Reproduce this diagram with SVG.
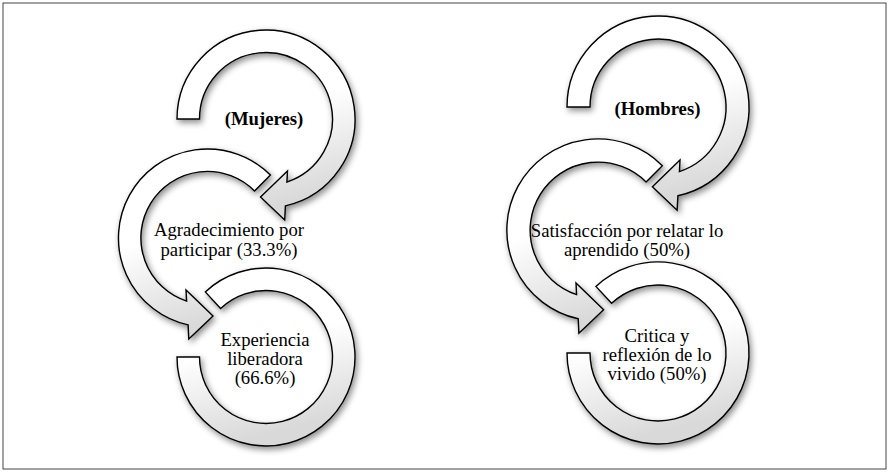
<svg xmlns="http://www.w3.org/2000/svg" width="890" height="473" viewBox="0 0 890 473">
  <style>
    .arrow { fill: url(#g); stroke: #000; stroke-width: 1.4; stroke-linejoin: miter; filter: url(#sh); }
    .t { font-family: "Liberation Serif", "Times New Roman", serif; font-size: 18.7px; fill: #000; text-anchor: middle; }
    .b { font-weight: bold; }
  </style>
  <defs>
    <linearGradient id="g" x1="0" y1="0" x2="0.25" y2="1">
      <stop offset="0" stop-color="#ffffff"/>
      <stop offset="0.5" stop-color="#ffffff"/>
      <stop offset="1" stop-color="#d9d9d9"/>
    </linearGradient>
    <filter id="sh" x="-20%" y="-20%" width="150%" height="150%">
      <feDropShadow dx="2" dy="3" stdDeviation="3" flood-color="#000" flood-opacity="0.45"/>
    </filter>
  </defs>
  <rect x="3" y="3" width="883" height="466" fill="#fff" stroke="#444" stroke-width="1"/>

  <g id="mujeres">
    <path class="arrow" d="M177,119 A89,89 0 1 1 285.4,205.9 L284.7,220 L260.5,197.1 L287.5,170.9 L286.9,182.1 A66.5,66.5 0 1 0 199.5,119 Z"/>
    <text class="t b" x="264" y="125">(Mujeres)</text>
  </g>
  <g id="agradecimiento">
    <path class="arrow" d="M270.4,175.1 A89,89 0 1 0 188.1,324.9 L188.8,339 L213,316.1 L186,289.9 L186.6,301.1 A66.5,66.5 0 1 1 254.5,191 Z"/>
    <text class="t" x="229" y="236">Agradecimiento por</text>
    <text class="t" x="229" y="256">participar (33.3%)</text>
  </g>
  <g id="experiencia">
    <path class="arrow" d="M205.3,291.9 A89,89 0 1 1 177,357 L199.5,357 A66.5,66.5 0 1 0 220.6,308.4 Z"/>
    <text class="t" x="265" y="346">Experiencia</text>
    <text class="t" x="265" y="365">liberadora</text>
    <text class="t" x="265" y="384">(66.6%)</text>
  </g>

  <g id="hombres">
    <path class="arrow" d="M567,107 A91,91 0 1 1 677.9,195.8 L677.1,210.2 L652.4,186.8 L680,160 L679.4,171.6 A68,68 0 1 0 590,107 Z"/>
    <text class="t b" x="657.5" y="115">(Hombres)</text>
  </g>
  <g id="satisfaccion">
    <path class="arrow" d="M662.3,165.7 A91,91 0 1 0 578.2,318.8 L578.9,333.2 L603.6,309.8 L576,283 L576.6,294.6 A68,68 0 1 1 646.1,181.9 Z"/>
    <text class="t" x="627" y="237">Satisfacción por relatar lo</text>
    <text class="t" x="627" y="256">aprendido (50%)</text>
  </g>
  <g id="critica">
    <path class="arrow" d="M595.9,286.4 A91,91 0 1 1 567,353 L590,353 A68,68 0 1 0 611.6,303.3 Z"/>
    <text class="t" x="657" y="342">Critica y</text>
    <text class="t" x="657" y="361">reflexión de lo</text>
    <text class="t" x="657" y="380">vivido (50%)</text>
  </g>
  <g id="connectors"/>
</svg>
